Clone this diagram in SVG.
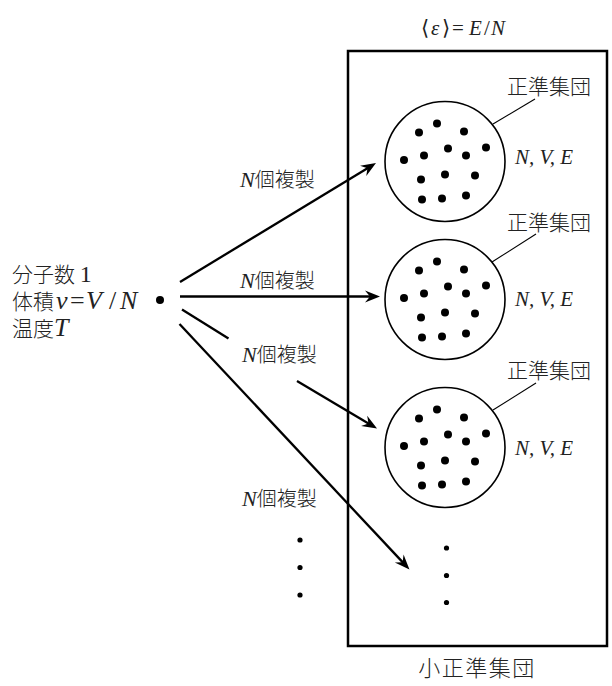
<svg xmlns="http://www.w3.org/2000/svg" xmlns:xlink="http://www.w3.org/1999/xlink" width="612" height="686" viewBox="0 0 612 686">
<style>
.cjk{font-family:"Noto Sans CJK JP","Noto Sans",sans-serif;font-size:20px;font-weight:300;fill:#222;}
.ser{font-family:"Liberation Serif","DejaVu Serif",serif;font-weight:normal;}
.it{font-family:"Liberation Serif","DejaVu Serif",serif;font-style:italic;font-weight:normal;}
.arrow{fill:none;stroke:#000;stroke-width:2.3;}
.circ{fill:#fff;stroke:#000;stroke-width:1.6;}
.lead{stroke:#000;stroke-width:1.1;}
</style>
<defs>
<marker id="ah" markerUnits="userSpaceOnUse" markerWidth="20" markerHeight="16" viewBox="-15 -8 16 16" refX="-9" refY="0" orient="auto">
<path d="M0,0 L-15,-6 L-10,0 L-15,6 Z" fill="#000"/>
</marker>
<g id="dots" fill="#000">
<circle cx="-8" cy="-38" r="4"/><circle cx="-26" cy="-29" r="4"/><circle cx="19" cy="-30" r="4"/>
<circle cx="3" cy="-13" r="4"/><circle cx="41" cy="-14" r="4"/><circle cx="-41" cy="-1.5" r="4"/>
<circle cx="-21" cy="-6" r="4"/><circle cx="21" cy="-6" r="4"/><circle cx="0" cy="13" r="4"/>
<circle cx="-24" cy="18" r="4"/><circle cx="30" cy="14" r="4"/><circle cx="-23" cy="38" r="4"/>
<circle cx="-3" cy="37" r="4"/><circle cx="21" cy="34" r="4"/>
</g>
</defs>
<rect width="612" height="686" fill="#fff"/>

<g id="box">
<rect x="348" y="51" width="259" height="595" fill="none" stroke="#000" stroke-width="2.5"/>
<text class="cjk" x="477" y="676" text-anchor="middle" style="font-size:22px;letter-spacing:1.5px">小正準集団</text>
<text y="35" font-size="21" fill="#222"><tspan class="ser" x="421">⟨</tspan><tspan class="it" x="431">ε</tspan><tspan class="ser" x="442">⟩</tspan><tspan class="ser" x="452">=</tspan><tspan class="it" x="469">E</tspan><tspan class="ser" x="484">/</tspan><tspan class="it" x="491">N</tspan></text>
</g>

<g id="source">
<circle cx="160" cy="300" r="4" fill="#000"/>
<text class="cjk" x="12" y="282" style="font-size:21px">分子数 <tspan class="ser" font-size="24">1</tspan></text>
<text class="cjk" x="12" y="309" style="font-size:21px">体積<tspan class="it" font-size="26" x="56">v</tspan><tspan class="ser" font-size="26" x="70">=</tspan><tspan class="it" font-size="26" x="86">V</tspan><tspan class="ser" font-size="26" x="109">/</tspan><tspan class="it" font-size="26" x="120">N</tspan></text>
<text class="cjk" x="12" y="336" style="font-size:21px">温度<tspan class="it" font-size="26">T</tspan></text>
</g>

<g id="ens1">
<circle class="circ" cx="445" cy="161.5" r="60"/>
<use xlink:href="#dots" transform="translate(445,161.5)"/>
<line class="lead" x1="493" y1="124" x2="535" y2="99"/>
<text class="cjk" x="507" y="94" style="font-size:21px">正準集団</text>
<text class="it" x="515" y="164" font-size="21" fill="#222">N, V, E</text>
</g>

<g id="ens2">
<circle class="circ" cx="445" cy="299.5" r="60"/>
<use xlink:href="#dots" transform="translate(445,299.5)"/>
<line class="lead" x1="492" y1="262" x2="536" y2="234"/>
<text class="cjk" x="507" y="230" style="font-size:21px">正準集団</text>
<text class="it" x="515" y="306" font-size="21" fill="#222">N, V, E</text>
</g>

<g id="ens3">
<circle class="circ" cx="445" cy="447.5" r="60"/>
<use xlink:href="#dots" transform="translate(445,447.5)"/>
<line class="lead" x1="493" y1="410" x2="536" y2="383"/>
<text class="cjk" x="507" y="378" style="font-size:21px">正準集団</text>
<text class="it" x="515" y="455" font-size="21" fill="#222">N, V, E</text>
</g>

<g id="ellipsis" fill="#000">
<circle cx="300" cy="540" r="2.6"/><circle cx="300" cy="567.5" r="2.6"/><circle cx="300" cy="595" r="2.6"/>
<circle cx="446.5" cy="548" r="2.6"/><circle cx="446.5" cy="575.5" r="2.6"/><circle cx="446.5" cy="602.5" r="2.6"/>
</g>

<g id="connectors">
<line class="arrow" x1="180" y1="282" x2="368.3" y2="167.7" marker-end="url(#ah)"/>
<line class="arrow" x1="180" y1="296.5" x2="371" y2="296.5" marker-end="url(#ah)"/>
<line class="arrow" x1="182" y1="309.5" x2="228.5" y2="338.5"/>
<line class="arrow" x1="297" y1="381" x2="369.3" y2="423.9" marker-end="url(#ah)"/>
<line class="arrow" x1="179.5" y1="324" x2="403.3" y2="562.9" marker-end="url(#ah)"/>
<text class="cjk" x="240" y="187"><tspan class="it" font-size="22">N</tspan>個複製</text>
<text class="cjk" x="240" y="288"><tspan class="it" font-size="22">N</tspan>個複製</text>
<text class="cjk" x="242" y="362"><tspan class="it" font-size="22">N</tspan>個複製</text>
<text class="cjk" x="242" y="506"><tspan class="it" font-size="22">N</tspan>個複製</text>
</g>
</svg>
